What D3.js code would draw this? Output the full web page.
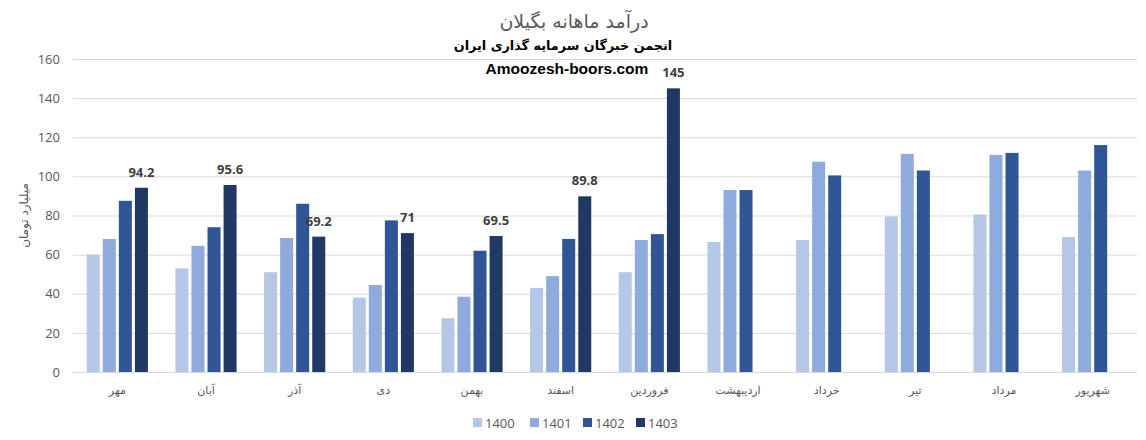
<!DOCTYPE html>
<html><head><meta charset="utf-8">
<script src="https://cdn.jsdelivr.net/npm/d3@7"></script>
<style>
body{margin:0;background:#fff;}
svg{display:block;}
</style></head>
<body>
<svg id="chart" width="1146" height="440"></svg>
<script>
const categories = ["مهر","آبان","آذر","دی","بهمن","اسفند","فروردین","اردیبهشت","خرداد","تیر","مرداد","شهریور"];
const years = ["1400","1401","1402","1403"];
const s1400 = [60,53,51,38,27.5,43,51,66.5,67.5,79.5,80.5,69];
const s1401 = [68,64.5,68.5,44.5,38.5,49,67.5,93,107.5,111.5,111,103];
const s1402 = [87.5,74,86,77.5,62,68,70.5,93,100.5,103,112,116];
const s1403 = [94.2,95.6,69.2,71,69.5,89.8,145,null,null,null,null,null];
const yTicks = [0,20,40,60,80,100,120,140,160];
const colors = ["#b4c7e7","#8faadc","#2f5597","#203864"];
const seriesData = [s1400,s1401,s1402,s1403];

const svg = d3.select("#chart");
const m = {left:73,right:9,top:59,bottom:68};
const W = 1146, H = 440;
const x = d3.scaleBand().domain(categories).range([m.left, W-m.right]).paddingInner(0.31).paddingOuter(0.155);
const xs = d3.scaleBand().domain(years).range([0, x.bandwidth()]).paddingInner(0.19).paddingOuter(0);
const y = d3.scaleLinear().domain([0,160]).range([H-m.bottom, m.top]);

// gridlines
svg.append("g").selectAll("line").data(yTicks).join("line")
  .attr("x1", m.left).attr("x2", W-m.right)
  .attr("y1", d=>y(d)+0.5).attr("y2", d=>y(d)+0.5)
  .attr("stroke","#d9d9d9").attr("stroke-width",1);

// y axis labels
const yAxis = d3.axisLeft(y).tickValues(yTicks).tickSize(0).tickPadding(13);
const gy = svg.append("g").attr("transform",`translate(${m.left},0)`).call(yAxis);
gy.select(".domain").remove();
gy.selectAll("text").attr("fill","#595959").style("font-family","'Open Sans', 'Liberation Sans', sans-serif").style("font-size","13px");

// x axis labels
const xAxis = d3.axisBottom(x).tickSize(0).tickPadding(14);
const gx = svg.append("g").attr("transform",`translate(0,${H-m.bottom})`).call(xAxis);
gx.select(".domain").remove();
gx.selectAll("text").attr("fill","#595959").style("font-family","'DejaVu Sans', sans-serif").style("font-size","11px");

// bars
years.forEach((yr,i)=>{
  const data = seriesData[i].map((v,j)=>({c:categories[j], v}));
  svg.append("g").selectAll("rect").data(data.filter(d=>d.v!=null)).join("rect")
    .attr("x", d=>x(d.c)+xs(yr))
    .attr("width", xs.bandwidth())
    .attr("y", d=>y(d.v))
    .attr("height", d=>y(0)-y(d.v))
    .attr("fill", colors[i]);
});

// data labels on 1403
svg.append("g").selectAll("text").data(s1403.map((v,j)=>({c:categories[j],v})).filter(d=>d.v!=null)).join("text")
  .attr("x", d=>x(d.c)+xs("1403")+xs.bandwidth()/2)
  .attr("y", d=>y(d.v)-11)
  .attr("text-anchor","middle")
  .attr("fill","#404040")
  .style("font-family","'Open Sans', 'Liberation Sans', sans-serif")
  .style("font-size","13px").style("font-weight","bold")
  .text(d=>d.v);

// titles
svg.append("text").attr("x",574).attr("y",28).attr("text-anchor","middle")
  .attr("fill","#595959").style("font-family","'DejaVu Sans', sans-serif").style("font-size","19px")
  .text("درآمد ماهانه بگیلان");
svg.append("text").attr("x",563).attr("y",50).attr("text-anchor","middle")
  .attr("fill","#000").style("font-family","'DejaVu Sans', sans-serif").style("font-size","12.8px").style("font-weight","bold")
  .text("انجمن خبرگان سرمایه گذاری ایران");
svg.append("text").attr("x",567).attr("y",74).attr("text-anchor","middle")
  .attr("fill","#000").style("font-family","'Liberation Sans', Arial, sans-serif").style("font-size","15.5px").style("font-weight","bold")
  .text("Amoozesh-boors.com");

// y axis title
svg.append("text").attr("transform",`translate(28,${(y(0)+y(160))/2}) rotate(-90)`).attr("text-anchor","middle")
  .attr("fill","#595959").style("font-family","'DejaVu Sans', sans-serif").style("font-size","12px")
  .text("میلیارد تومان");

// legend
const legendX = [473,530,583,636];
const lg = svg.append("g");
years.forEach((yr,i)=>{
  lg.append("rect").attr("x",legendX[i]).attr("y",418).attr("width",9).attr("height",9).attr("fill",colors[i]);
  lg.append("text").attr("x",legendX[i]+12).attr("y",427.5).attr("fill","#595959")
    .style("font-family","'Open Sans', 'Liberation Sans', sans-serif").style("font-size","13px").text(yr);
});
</script>
</body></html>
